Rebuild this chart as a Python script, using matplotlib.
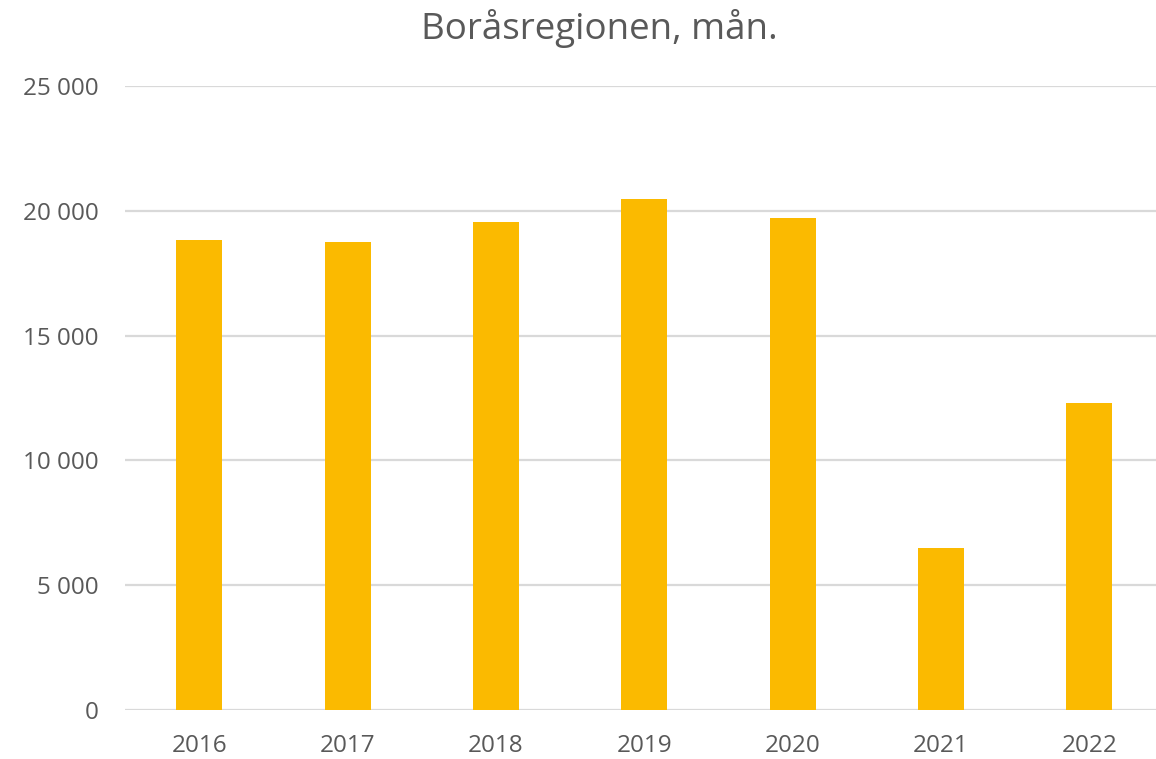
import numpy as np
import matplotlib.pyplot as plt
from matplotlib.ticker import FuncFormatter

plt.rcParams['font.family'] = ['Open Sans', 'DejaVu Sans']

years = ["2016", "2017", "2018", "2019", "2020", "2021", "2022"]
values = [18830, 18750, 19560, 20480, 19710, 6500, 12310]
yticks = [0, 5000, 10000, 15000, 20000, 25000]

W, H = 1156, 759
fig = plt.figure(figsize=(W/100, H/100), dpi=100)
ax = fig.add_axes([125/W, (H-710)/H, (1156-125)/W, (710-86)/H])

x = np.arange(len(years))
ax.bar(x, values, width=0.31, color="#FBBA00", zorder=3)

ax.set_xlim(-0.5, 6.45)
ax.set_ylim(0, 25000)
ax.set_yticks(yticks)
ax.yaxis.set_major_formatter(FuncFormatter(lambda v, p: f"{int(v):,}".replace(",", " ")))
ax.set_xticks(x)
ax.set_xticklabels(years)

ax.grid(axis="y", color="#D9D9D9", linewidth=1.6, zorder=0)
for s in ax.spines.values():
    s.set_visible(False)
ax.tick_params(axis="both", length=0, labelsize=17.5, colors="#595959")
ax.tick_params(axis="y", pad=19)
ax.tick_params(axis="x", pad=17)

fig.text(599/W, 1-29/H, "Boråsregionen, mån.", ha="center", va="center",
         fontsize=26.5, color="#595959")

fig.savefig("out.png", dpi=100)
